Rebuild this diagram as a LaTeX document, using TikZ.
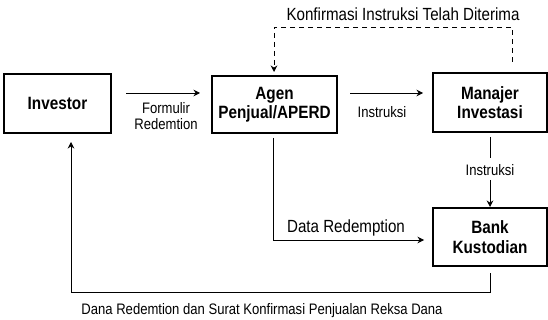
\documentclass[tikz,border=0pt]{standalone}
\usepackage{fontspec}
\setmainfont{Liberation Sans}[FakeStretch=0.86]
\usetikzlibrary{arrows.meta}
\begin{document}
\begin{tikzpicture}[x=1pt,y=-1pt,
  box/.style={draw,line width=1.1pt,inner sep=0pt,align=center,font=\fontsize{17.8}{19.5}\selectfont\bfseries},
  conn/.style={line width=0.9pt,-{Stealth[length=6.5pt,width=6.5pt]}},
  lbl/.style={inner sep=1pt,align=center,font=\fontsize{15.2}{16.5}\selectfont},
  biglbl/.style={inner sep=1pt,align=center,font=\fontsize{17.6}{19}\selectfont}]
\useasboundingbox (0,0) rectangle (548,320);
\node[box,minimum width=107pt,minimum height=59pt] (inv) at (57.5,103.5) {Investor};
\node[box,minimum width=125pt,minimum height=57pt] (agen) at (274.5,104.5) {Agen\\Penjual/APERD};
\node[box,minimum width=114pt,minimum height=59pt] (man) at (490,102.5) {Manajer\\Investasi};
\node[box,minimum width=114pt,minimum height=58pt] (bank) at (490,237) {Bank\\Kustodian};
% Investor -> Agen
\coordinate (a1) at (126,93);
\coordinate (a2) at (200,93);
\draw[conn] (a1) -- (a2);
\node[lbl] (l1) at (166,116) {Formulir\\Redemtion};
% Agen -> Manajer
\coordinate (b1) at (350,93);
\coordinate (b2) at (423,93);
\draw[conn] (b1) -- (b2);
\node[lbl] (l2) at (382,112) {Instruksi};
% dashed Manajer -> Agen
\coordinate (d1) at (512,62);
\coordinate (d2) at (512,27);
\coordinate (d3) at (274,27);
\coordinate (d4) at (274,72);
\draw[conn,dashed,dash pattern=on 5pt off 4pt] (d1) -- (d2) -- (d3) -- (d4);
\node[biglbl] (l3) at (403,14) {Konfirmasi Instruksi Telah Diterima};
% Manajer -> Bank
\coordinate (m1) at (490,137);
\coordinate (m2) at (490,158);
\node[lbl] (l4) at (490,170) {Instruksi};
\coordinate (m3) at (490,180);
\coordinate (m4) at (490,207);
\draw[line width=0.9pt] (m1) -- (m2);
\draw[conn] (m3) -- (m4);
% Agen -> Bank
\coordinate (g1) at (273,138);
\coordinate (g2) at (273,240);
\coordinate (g3) at (424,240);
\draw[conn] (g1) -- (g2) -- (g3);
\node[biglbl] (l5) at (346,228) {Data Redemption};
% Bank -> Investor
\coordinate (k1) at (490,273);
\coordinate (k2) at (490,292);
\coordinate (k3) at (71,292);
\coordinate (k4) at (71,142);
\draw[conn] (k1) -- (k2) -- (k3) -- (k4);
\node[lbl] (l6) at (262,311) {Dana Redemtion dan Surat Konfirmasi Penjualan Reksa Dana};
\end{tikzpicture}
\end{document}
